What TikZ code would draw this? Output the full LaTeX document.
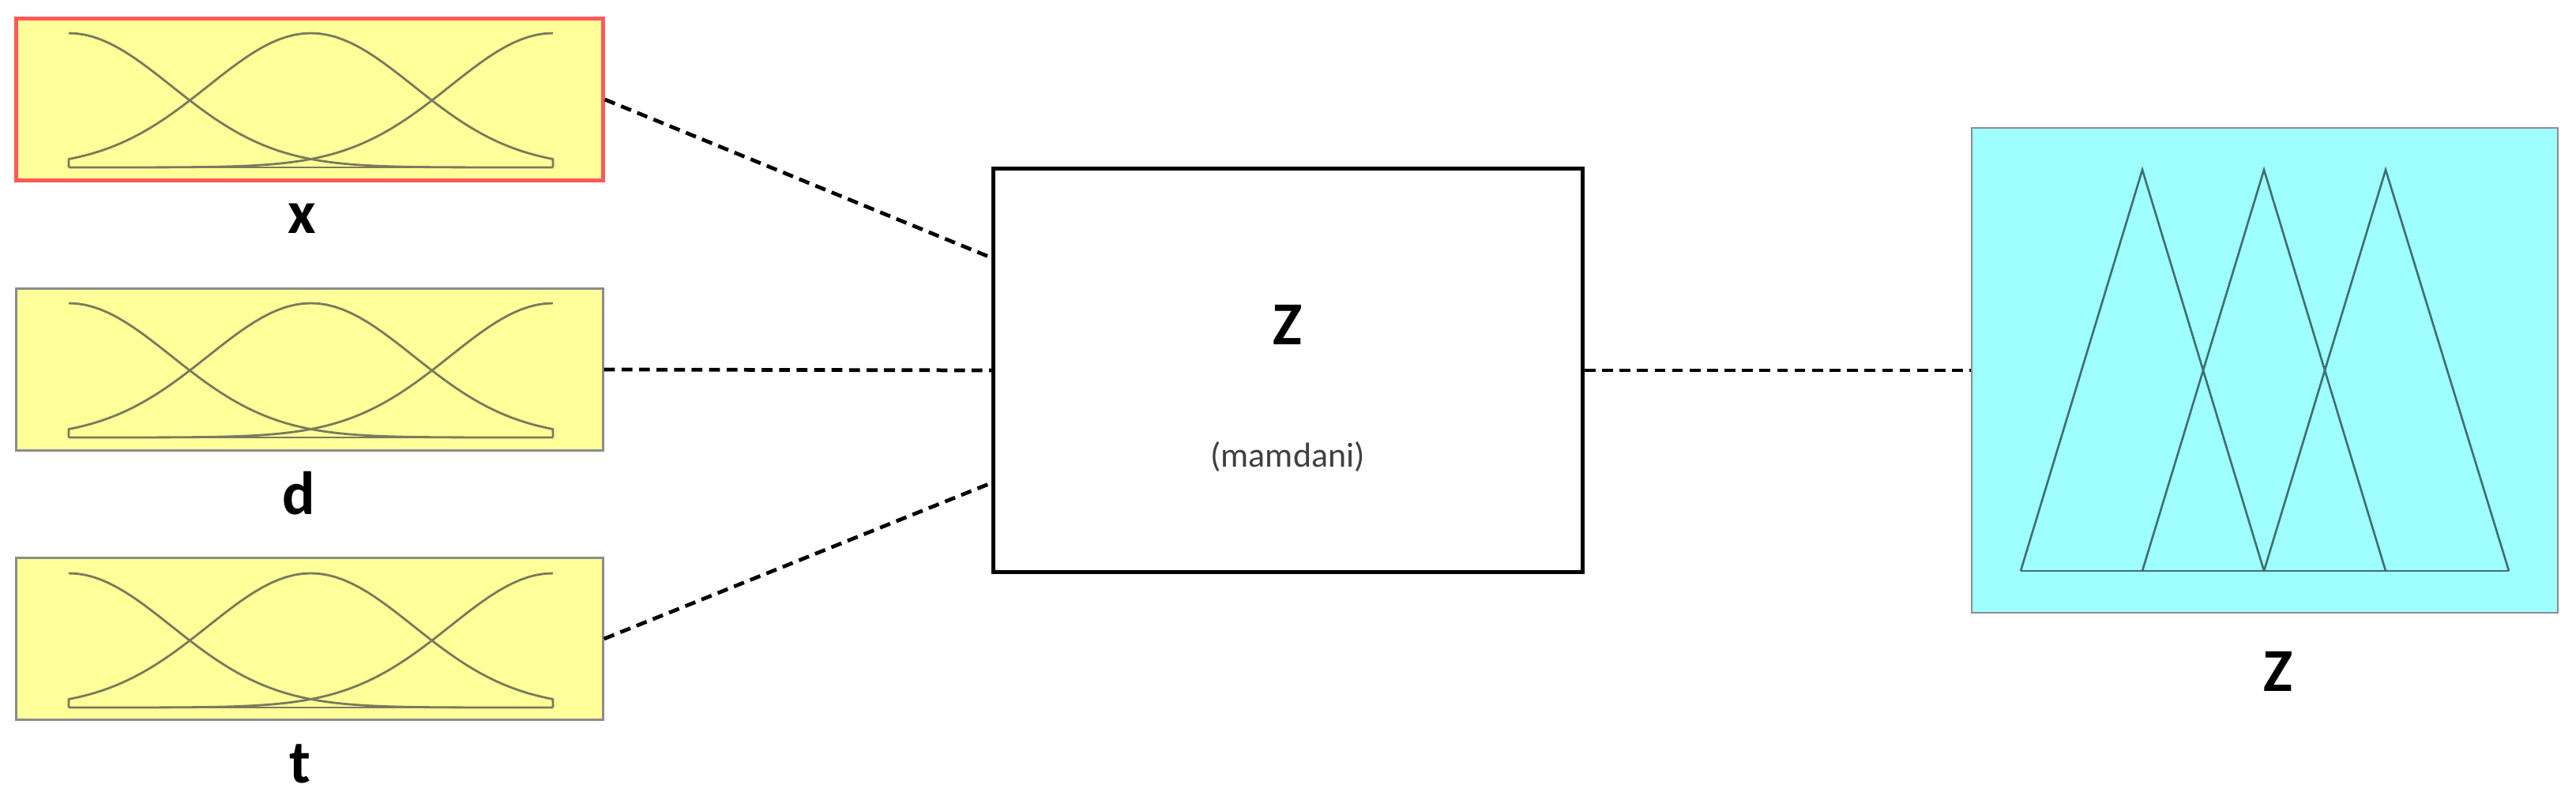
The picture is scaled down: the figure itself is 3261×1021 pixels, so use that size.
\documentclass[tikz,border=0pt]{standalone}
\usepackage{fontspec}
\setmainfont{Carlito}
\usetikzlibrary{calc}
\definecolor{yel}{HTML}{FFFF99}
\definecolor{redb}{HTML}{FF5A5A}
\definecolor{grayb}{HTML}{8C8C8C}
\definecolor{cyanf}{HTML}{9FFFFF}
\definecolor{curvec}{HTML}{7A7A5C}
\definecolor{tric}{HTML}{3F7070}
\definecolor{txtc}{HTML}{404040}
\newcommand\mfcurves[1]{%
  \draw[mfline] (87,#1+170) -- (700,#1+170);
  \draw[mfline] plot[domain=0:1,samples=61,variable=\u]
     ({87+613*\u},{#1+170-170*exp(0-(\u*\u)/0.0899)});
  \draw[mfline] (87,#1+170) -- plot[domain=0:1,samples=61,variable=\u]
     ({87+613*\u},{#1+170-170*exp(0-((\u-0.5)*(\u-0.5))/0.0899)}) -- (700,#1+170);
  \draw[mfline] plot[domain=0:1,samples=61,variable=\u]
     ({87+613*\u},{#1+170-170*exp(0-((\u-1)*(\u-1))/0.0899)});
}
\begin{document}
\begin{tikzpicture}[x=0.01cm,y=-0.01cm,
  inbox/.style={draw=grayb, line width=0.85pt, fill=yel, inner sep=0pt,
                minimum width=7.42cm, minimum height=2.05cm},
  rulebox/.style={draw=black, line width=1.5pt, fill=white, inner sep=0pt,
                minimum width=7.45cm, minimum height=5.10cm},
  outbox/.style={draw=grayb, line width=0.7pt, fill=cyanf, inner sep=0pt,
                minimum width=7.42cm, minimum height=6.14cm},
  mfline/.style={draw=curvec, line width=0.8pt, line join=round},
  triline/.style={draw=tric, line width=0.75pt, line join=miter},
  conn/.style={draw=black, line width=1.35pt, dash pattern=on 3.9pt off 2.4pt},
  lbl/.style={inner sep=0pt, font=\fontsize{22}{26}\selectfont\bfseries},
  sublbl/.style={inner sep=0pt, text=txtc, font=\fontsize{12.5}{15}\selectfont}]
\useasboundingbox (0,0) rectangle (3261,1021);

% input boxes
\node[inbox, draw=redb, line width=1.4pt] (bx) at (392,126) {};
\node[inbox] (bd) at (392,468) {};
\node[inbox] (bt) at (392,809) {};
\mfcurves{42}
\mfcurves{384}
\mfcurves{726}
\node[lbl] (lx) at (382,277) {x};
\node[lbl] (ld) at (378,625) {d};
\node[lbl] (lt) at (380,967) {t};

% rule box
\node[rulebox] (cz) at (1630.5,469) {};
\node[lbl] (czl) at (1630,411) {Z};
\node[sublbl] (czm) at (1630,578) {(mamdani)};

% output box
\node[outbox] (oz) at (2867,469) {};
\draw[triline] (2558,723) -- (3176,723);
\draw[triline] (2558,723) -- (2712,215) -- (2866,723);
\draw[triline] (2712,723) -- (2866,215) -- (3020,723);
\draw[triline] (2866,723) -- (3020,215) -- (3176,723);
\node[lbl] (ozl) at (2884,850) {Z};

% connectors
\draw[conn] (bx.east) -- ($(cz.north west)!0.2235!(cz.south west)$);
\draw[conn] (bd.east) -- (cz.west);
\draw[conn] (bt.east) -- ($(cz.south west)!0.2235!(cz.north west)$);
\draw[conn] (cz.east) -- (oz.west);
\end{tikzpicture}
\end{document}
